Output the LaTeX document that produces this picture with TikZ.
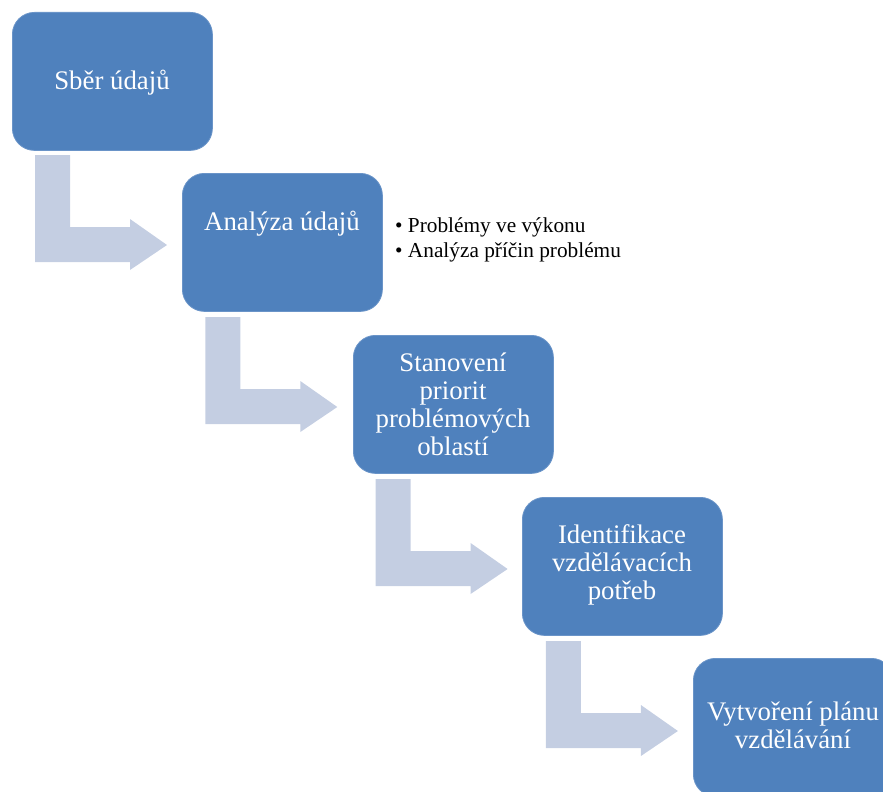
\documentclass[tikz,border=0pt]{standalone}
\usepackage{fontspec}
\setmainfont{Liberation Serif}
\definecolor{boxblue}{HTML}{4F81BD}
\definecolor{boxedge}{HTML}{6A94C8}
\definecolor{arrowgray}{HTML}{C4CEE2}
\begin{document}
\begin{tikzpicture}[x=1pt,y=-1pt,
  stepbox/.style={draw=boxedge,line width=0.8pt,fill=boxblue,rounded corners=22pt,
    minimum width=200pt,minimum height=138pt,anchor=north west,inner sep=0pt},
  boxtext/.style={text=white,align=center,inner sep=0pt,anchor=base,
    font=\fontsize{26.8}{27.7}\selectfont},
  bullettext/.style={text=black,align=left,inner sep=0pt,anchor=base west,
    font=\fontsize{21.3}{25}\selectfont},
  bentarrow/.style={fill=arrowgray}]
\useasboundingbox (0,0) rectangle (883,792);
\clip (0,0) rectangle (883,792);
% bent arrows
\foreach \i in {0,1,2,3}{
  \begin{scope}[shift={({35+170.3*\i},{155+162*\i})}]
    \fill[bentarrow] (0,0) -- (35,0) -- (35,72) -- (95,72) -- (95,64) -- (132,90)
      -- (95,115) -- (95,107) -- (0,107) -- cycle;
  \end{scope}
}
% boxes
\node[stepbox] (b1) at (12,12) {};
\node[stepbox] (b2) at (182,173) {};
\node[stepbox] (b3) at (353,335) {};
\node[stepbox] (b4) at (522,497) {};
\node[stepbox] (b5) at (693,658) {};
% texts (base anchor = baseline of the last line)
\node[boxtext] (t1) at (112,89) {Sběr údajů};
\node[boxtext] (t2) at (282,230) {Analýza údajů};
\node[boxtext] (t3) at (453,455) {Stanovení\\priorit\\problémových\\oblastí};
\node[boxtext] (t4) at (622,599) {Identifikace\\vzdělávacích\\potřeb};
\node[boxtext] (t5) at (793,748) {Vytvoření plánu\\vzdělávání};
\node[bullettext] (l1) at (395,232) {\textbullet\ Problémy ve výkonu};
\node[bullettext] (l2) at (395,257) {\textbullet\ Analýza příčin problému};
\end{tikzpicture}
\end{document}
